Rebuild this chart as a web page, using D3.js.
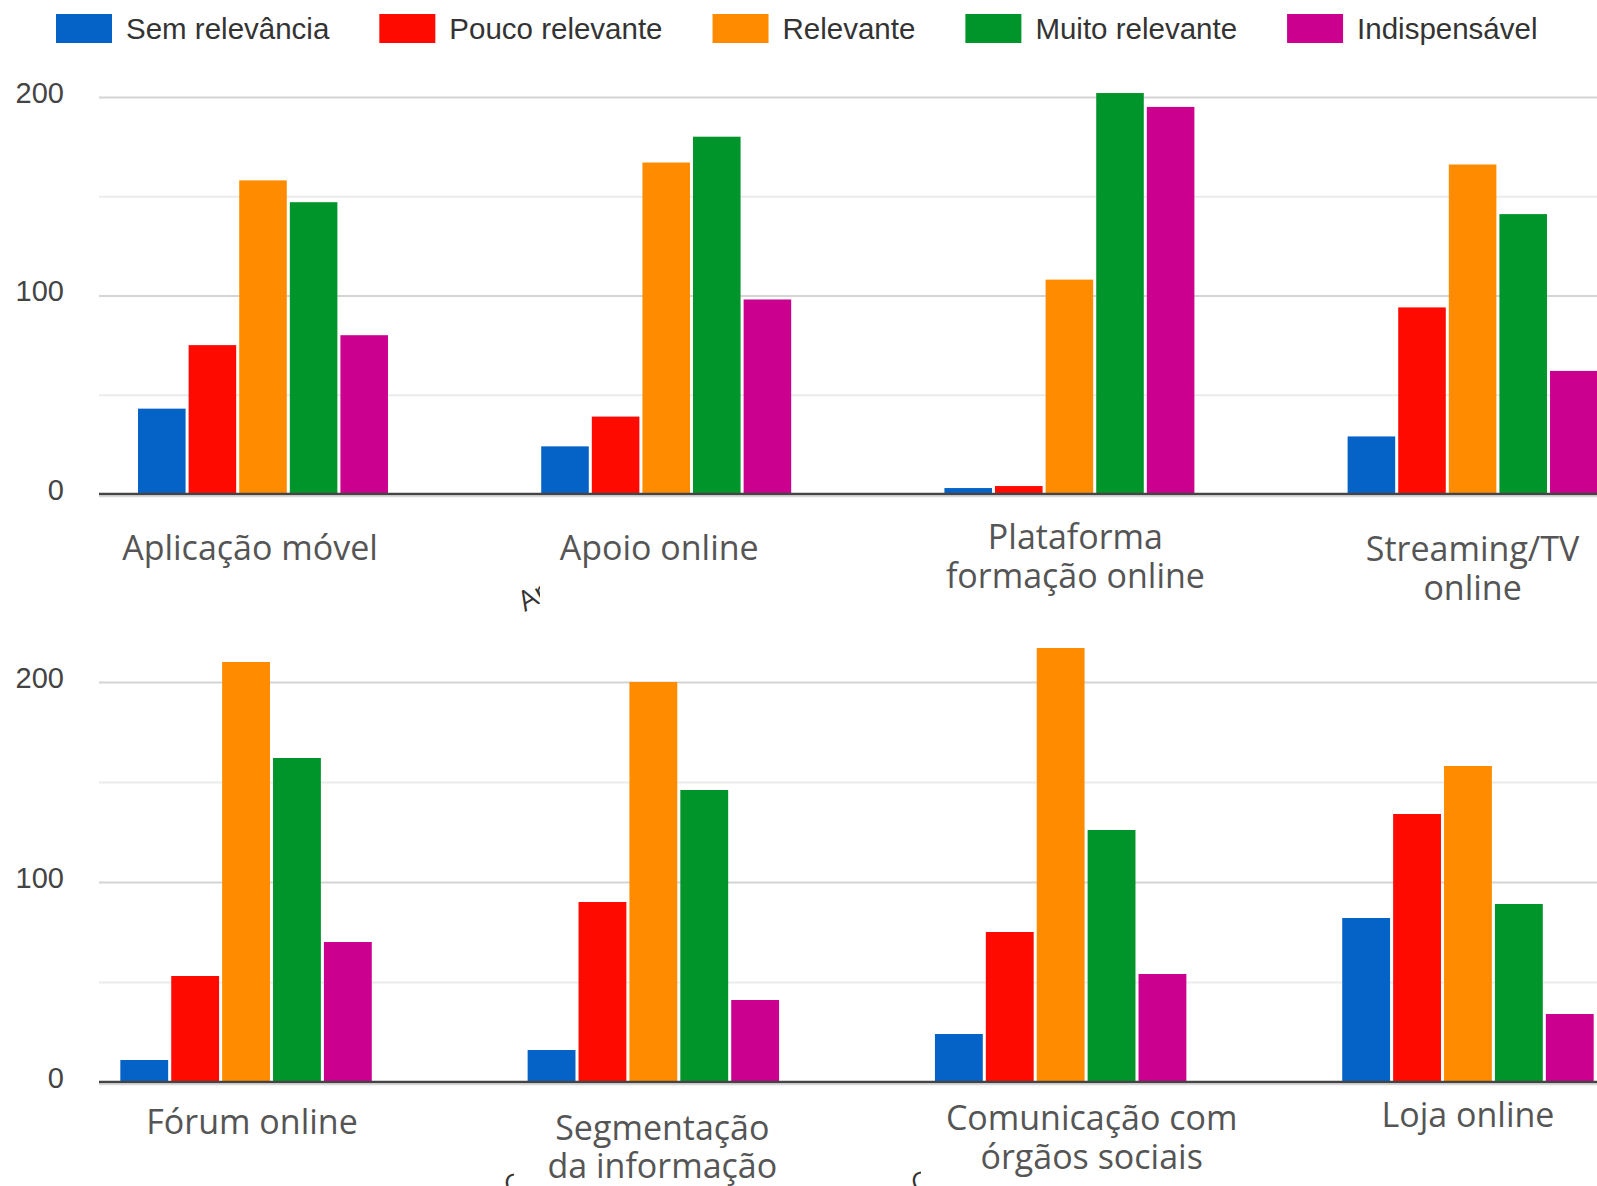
<!DOCTYPE html>
<html>
<head>
<meta charset="utf-8">
<script src="https://cdn.jsdelivr.net/npm/d3@7"></script>
<style>
  html, body { margin: 0; padding: 0; background: #fff; }
  svg { display: block; }
</style>
</head>
<body>
<script>
// Series (legend order) and their colours
const seriesNames = ["Sem relevância", "Pouco relevante", "Relevante", "Muito relevante", "Indispensável"];
const seriesColors = ["#0563c8", "#ff0a00", "#ff8c00", "#00952a", "#cc008f"];

// Categories, first row then second row
const categoriesTop = ["Aplicação móvel", "Apoio online", "Plataforma formação online", "Streaming/TV online"];
const categoriesBottom = ["Fórum online", "Segmentação da informação", "Comunicação com órgãos sociais", "Loja online"];

// Category labels as they wrap under each group
const labelLinesTop = [["Aplicação móvel"], ["Apoio online"], ["Plataforma", "formação online"], ["Streaming/TV", "online"]];
const labelLinesBottom = [["Fórum online"], ["Segmentação", "da informação"], ["Comunicação com", "órgãos sociais"], ["Loja online"]];

// Number of answers per category (top row categories, then bottom row)
const semRelevancia   = [43, 24, 3, 29,   11, 16, 24, 82];
const poucoRelevante  = [75, 39, 4, 94,   53, 90, 75, 134];
const relevante       = [158, 167, 108, 166, 210, 200, 217, 158];
const muitoRelevante  = [147, 180, 202, 141, 162, 146, 126, 89];
const indispensavel   = [80, 98, 195, 62,  70, 41, 54, 34];

// Y axis ticks
const gridTicks = [0, 50, 100, 150, 200];
const labelTicks = [0, 100, 200];

const W = 1597, H = 1186;
const svg = d3.select("body").append("svg").attr("width", W).attr("height", H);
const defs = svg.append("defs");

const seriesValues = [semRelevancia, poucoRelevante, relevante, muitoRelevante, indispensavel];
const color = d3.scaleOrdinal().domain(seriesNames).range(seriesColors);

function drawPanel(cfg) {
  const { categories, labelLines, offset, xRange, yRange, step, labelBaselines } = cfg;
  const g = svg.append("g");

  const x = d3.scaleBand().domain(categories).range(xRange).paddingInner(0).paddingOuter(0);
  const y = d3.scaleLinear().domain([0, 200]).range(yRange);
  const groupW = step * (seriesNames.length - 0.06);
  const xs = d3.scaleBand().domain(seriesNames).range([-groupW / 2, groupW / 2]).paddingInner(0.06);

  // Gridlines
  const gridAxis = d3.axisLeft(y).tickValues(gridTicks.filter(t => t > 0)).tickSize(-(W - 99)).tickFormat("");
  const gg = g.append("g").attr("transform", "translate(99,0)").call(gridAxis);
  gg.select(".domain").remove();
  gg.selectAll(".tick line")
    .attr("stroke", d => d % 100 === 0 ? "#d4d4d4" : "#ebebeb")
    .attr("stroke-width", 2.2);

  // Tick labels
  const la = d3.axisLeft(y).tickValues(labelTicks).tickSize(0).tickPadding(0).tickFormat(d3.format("d"));
  const lg = g.append("g").attr("transform", "translate(64,-4)").call(la);
  lg.select(".domain").remove();
  lg.selectAll("text")
    .attr("font-family", "'Liberation Sans', Arial, sans-serif")
    .attr("font-size", 29)
    .attr("fill", "#444");

  // Bars
  categories.forEach((cat, ci) => {
    const cx = x(cat) + x.bandwidth() / 2;
    const grp = g.append("g").attr("transform", `translate(${cx},0)`);
    grp.selectAll("rect")
      .data(seriesNames.map((s, si) => ({ s, v: seriesValues[si][offset + ci] })))
      .join("rect")
      .attr("x", d => xs(d.s))
      .attr("width", xs.bandwidth())
      .attr("y", d => y(d.v))
      .attr("height", d => y(0) - y(d.v))
      .attr("fill", d => color(d.s));

    // Category label
    const t = g.append("text")
      .attr("text-anchor", "middle")
      .attr("font-family", "'Open Sans', sans-serif")
      .attr("font-size", 34)
      .attr("fill", "#555");
    labelLines[ci].forEach((line, li) => {
      t.append("tspan").attr("x", cx + cfg.labelDx[ci]).attr("y", labelBaselines[ci][li]).text(line);
    });
  });

  // Baseline
  g.append("line").attr("x1", 99).attr("x2", W).attr("y1", y(0) + 2.5).attr("y2", y(0) + 2.5)
    .attr("stroke", "#d8d8d8").attr("stroke-width", 1.5);
  g.append("line").attr("x1", 99).attr("x2", W).attr("y1", y(0)).attr("y2", y(0))
    .attr("stroke", "#444").attr("stroke-width", 2.4);
}

drawPanel({
  categories: categoriesTop, labelLines: labelLinesTop, offset: 0,
  xRange: [61.4, 1674.2], yRange: [494, 97], step: 50.6,
  labelDx: [-13, -7, 6, 0],
  labelBaselines: [[560], [560], [549, 588], [561, 600]]
});

drawPanel({
  categories: categoriesBottom, labelLines: labelLinesBottom, offset: 4,
  xRange: [42.4, 1671.6], yRange: [1082, 682], step: 50.9,
  labelDx: [6, 9, 31, 0],
  labelBaselines: [[1134], [1140, 1178], [1130, 1169], [1127]]
});

// Legend
const legend = svg.append("g");
let lx = 56;
seriesNames.forEach((s, i) => {
  legend.append("rect").attr("x", lx).attr("y", 14).attr("width", 56).attr("height", 29).attr("fill", seriesColors[i]);
  const t = legend.append("text")
    .attr("x", lx + 70).attr("y", 38.5)
    .attr("font-family", "'Liberation Sans', Arial, sans-serif")
    .attr("font-size", 29.5)
    .attr("fill", "#333")
    .text(s);
  lx += 70 + t.node().getComputedTextLength() + 50;
});

// Edges of rotated captions peeking out from beneath the labels
const fragments = [
  { id: "fragA", clip: [500, 570, 40, 50], tx: 525, ty: 612, rot: -30, size: 28, text: "Ap" },
  { id: "fragB", clip: [505, 1171, 9, 15], tx: 506, ty: 1194, rot: -10, size: 26, text: "C" },
  { id: "fragC", clip: [912, 1169, 9, 17], tx: 913, ty: 1192, rot: -10, size: 26, text: "C" }
];
fragments.forEach(f => {
  defs.append("clipPath").attr("id", f.id)
    .append("rect").attr("x", f.clip[0]).attr("y", f.clip[1]).attr("width", f.clip[2]).attr("height", f.clip[3]);
  svg.append("g").attr("clip-path", `url(#${f.id})`)
    .append("text")
    .attr("transform", `translate(${f.tx},${f.ty}) rotate(${f.rot})`)
    .attr("font-family", "'Open Sans', sans-serif")
    .attr("font-size", f.size)
    .attr("fill", "#333")
    .text(f.text);
});
</script>
</body>
</html>
